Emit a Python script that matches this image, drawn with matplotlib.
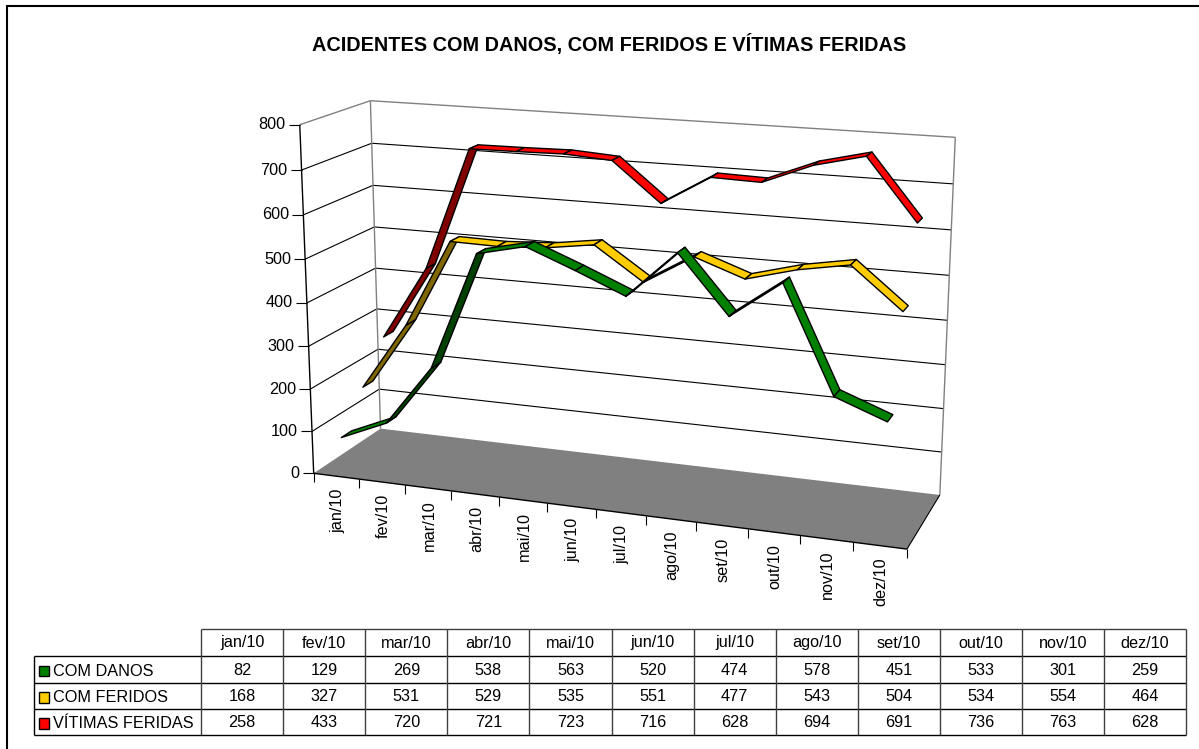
import numpy as np
import matplotlib
matplotlib.use("Agg")
import matplotlib.pyplot as plt
from matplotlib.patches import Polygon, Rectangle

plt.rcParams['font.family'] = ['Liberation Sans', 'DejaVu Sans']

months = ['jan/10', 'fev/10', 'mar/10', 'abr/10', 'mai/10', 'jun/10',
          'jul/10', 'ago/10', 'set/10', 'out/10', 'nov/10', 'dez/10']
com_danos = [82, 129, 269, 538, 563, 520, 474, 578, 451, 533, 301, 259]
com_feridos = [168, 327, 531, 529, 535, 551, 477, 543, 504, 534, 554, 464]
vitimas_feridas = [258, 433, 720, 721, 723, 716, 628, 694, 691, 736, 763, 628]
series_names = ['COM DANOS', 'COM FERIDOS', 'VÍTIMAS FERIDAS']
y_ticks = [0, 100, 200, 300, 400, 500, 600, 700, 800]
title = 'ACIDENTES COM DANOS, COM FERIDOS E VÍTIMAS FERIDAS'

colors = ['#008000', '#FFCC00', '#FF0000']
dark_colors = ['#004000', '#806600', '#800000']

# box corners: (month pos, value, depth) -> pixel
anchors = [
    (0, 0, 0, 313.3, 473.3), (0, 100, 0, 312.3, 431.7), (0, 700, 0, 301.7, 170), (0, 800, 0, 300, 124.3),
    (0, 0, 1, 380.7, 428.3), (0, 100, 1, 379.3, 389.3), (0, 700, 1, 371.7, 143.3), (0, 800, 1, 370, 101),
    (12, 0, 1, 940, 495), (12, 100, 1, 941.7, 451.7), (12, 700, 1, 953.3, 184), (12, 800, 1, 955.3, 137.3),
    (12, 0, 0, 906.7, 549.3),
]


def fit_camera(points):
    # plain DLT, gives the perspective matrix of the excel 3d box
    rows = []
    for x, v, z, px, py in points:
        m = [x / 12, v / 800, z, 1]
        rows.append(m + [0, 0, 0, 0] + [-px * a for a in m])
        rows.append([0, 0, 0, 0] + m + [-py * a for a in m])
    return np.linalg.svd(np.array(rows))[2][-1].reshape(3, 4)


camera = fit_camera(anchors)


def proj(x, v, z):
    p = camera @ np.array([x / 12, v / 800, z, 1])
    return p[0] / p[2], p[1] / p[2]


fig = plt.figure(figsize=(11.99, 7.49), dpi=100)
ax = fig.add_axes([0, 0, 1, 1])
ax.set_xlim(0, 1199)
ax.set_ylim(749, 0)
ax.axis('off')


def line(a, b, color='black', lw=0.8, zorder=2):
    ax.plot([a[0], b[0]], [a[1], b[1]], color=color, lw=lw, zorder=zorder, solid_capstyle='butt')


# outer frame, only top and left are visible
ax.plot([7, 7, 1199], [749, 6, 6], color='black', lw=1.5, zorder=1, solid_joinstyle='miter')

ax.text(609.5, 45, title, ha='center', va='center', fontsize=14.3, fontweight='bold')

# floor
floor = [proj(0, 0, 0), proj(12, 0, 0), proj(12, 0, 1), proj(0, 0, 1)]
ax.add_patch(Polygon(floor, closed=True, facecolor='#808080', edgecolor='none', zorder=1))
line(proj(0, 0, 0), proj(12, 0, 0), lw=1.0, zorder=3)
line(proj(12, 0, 0), proj(12, 0, 1), lw=0.8, zorder=3)

# walls and grid
for v in y_ticks[1:-1]:
    line(proj(0, v, 0), proj(0, v, 1))
    line(proj(0, v, 1), proj(12, v, 1))
grey = '#808080'
line(proj(0, 800, 0), proj(0, 800, 1), color=grey, lw=1.0)
line(proj(0, 800, 1), proj(12, 800, 1), color=grey, lw=1.0)
line(proj(0, 0, 1), proj(0, 800, 1), color=grey, lw=1.0)
line(proj(12, 0, 1), proj(12, 800, 1), color=grey, lw=1.0)
line(proj(0, 0, 0), proj(0, 800, 0), lw=1.0, zorder=3)

# value axis ticks and labels
for v in y_ticks:
    px, py = proj(0, v, 0)
    line((px - 11, py), (px, py), lw=0.8)
    ax.text(px - 14, py, str(v), ha='right', va='center', fontsize=11.7)

# month ticks and labels
for i in range(13):
    px, py = proj(i, 0, 0)
    line((px, py), (px, py + 9), lw=0.8)
for i, m in enumerate(months):
    px, py = proj(i + 0.5, 0, 0)
    ax.text(px + 1.5, py + 12, m, rotation=90, ha='center', va='top', fontsize=11.7)

# ribbons, back series first
all_series = [com_danos, com_feridos, vitimas_feridas]
depths = [1 / 6, 1 / 2, 5 / 6]
half_width = 0.075
for s in [2, 1, 0]:
    values = all_series[s]
    z0, z1 = depths[s] - half_width, depths[s] + half_width
    for i in range(len(values) - 1):
        a, b = values[i], values[i + 1]
        quad = [proj(i + 0.5, a, z0), proj(i + 1.5, b, z0), proj(i + 1.5, b, z1), proj(i + 0.5, a, z1)]
        face = dark_colors[s] if b - a > 130 else colors[s]
        ax.add_patch(Polygon(quad, closed=True, facecolor=face, edgecolor='black',
                             lw=1.0, joinstyle='round', zorder=5 + (2 - s) * 2))

# data table
tab_left, tab_first, col_w = 34.3, 201, 82.1
row_y = [629, 656, 682.5, 708.5, 734.5]
tab_right = tab_first + col_w * 12
line((tab_first, row_y[0]), (tab_right, row_y[0]), color='#404040', lw=1.0)
for y in row_y[1:]:
    line((tab_left, y), (tab_right, y), lw=1.0)
line((tab_left, row_y[1]), (tab_left, row_y[-1]), lw=1.0)
for c in range(13):
    x = tab_first + c * col_w
    line((x, row_y[0]), (x, row_y[-1]), color='#404040', lw=1.0)
for c, m in enumerate(months):
    ax.text(tab_first + (c + 0.5) * col_w, (row_y[0] + row_y[1]) / 2 + 0.5, m, ha='center', va='center', fontsize=11.7)
for r, name in enumerate(series_names):
    yc = (row_y[r + 1] + row_y[r + 2]) / 2
    ax.add_patch(Rectangle((38.5, yc - 3.5), 10.5, 10.5, facecolor=colors[r], edgecolor='black', lw=1.0, zorder=4))
    ax.text(53, yc + 1.8, name, ha='left', va='center', fontsize=11.7)
    for c, val in enumerate(all_series[r]):
        ax.text(tab_first + (c + 0.5) * col_w, yc + 1, str(val), ha='center', va='center', fontsize=11.7)

fig.savefig('out.png', dpi=100)
